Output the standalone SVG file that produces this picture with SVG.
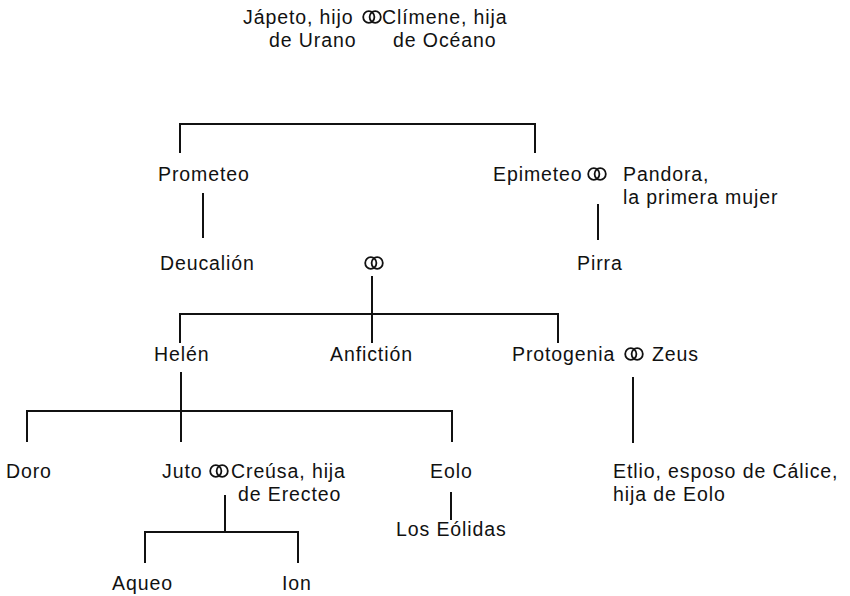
<svg xmlns="http://www.w3.org/2000/svg" xmlns:xlink="http://www.w3.org/1999/xlink" width="850" height="596" viewBox="0 0 850 596">
<style>
text { font-family: "Liberation Sans", Arial, sans-serif; font-size: 19.5px; letter-spacing: 0.9px; fill: #111; }
.ln { stroke: #111; stroke-width: 2; fill: none; stroke-linejoin: miter; stroke-linecap: butt; }
.rg { stroke: #111; stroke-width: 1.8; fill: none; }
</style>
<defs>
<g id="ring">
<ellipse class="rg" cx="-3.2" cy="0" rx="5.6" ry="5.8"/>
<ellipse class="rg" cx="3.2" cy="0" rx="5.6" ry="5.8"/>
</g>
</defs>
<rect width="850" height="596" fill="#fff"/>
<g id="connectors">
<path class="ln" d="M180 153 V124 H535 V153"/>
<path class="ln" d="M203 193 V238"/>
<path class="ln" d="M598 204 V240"/>
<path class="ln" d="M372 276 V314"/>
<path class="ln" d="M180 343 V314 H558 V343"/>
<path class="ln" d="M372 314 V343"/>
<path class="ln" d="M633 377 V443"/>
<path class="ln" d="M181 372 V411"/>
<path class="ln" d="M27 442 V411 H452 V442"/>
<path class="ln" d="M181 411 V442"/>
<path class="ln" d="M451 492 V520"/>
<path class="ln" d="M225 495 V532"/>
<path class="ln" d="M145 563 V532 H298 V563"/>
</g>
<g id="japeto"><text x="243" y="24">Jápeto, hijo</text><text x="269" y="47">de Urano</text></g>
<g id="m-japeto-climene"><use xlink:href="#ring" x="372" y="17"/></g>
<g id="climene"><text x="382" y="24">Clímene, hija</text><text x="393" y="47">de Océano</text></g>
<g id="prometeo"><text x="158" y="181">Prometeo</text></g>
<g id="epimeteo"><text x="493" y="181">Epimeteo</text></g>
<g id="m-epimeteo-pandora"><use xlink:href="#ring" x="597" y="174"/></g>
<g id="pandora"><text x="623" y="181">Pandora,</text><text x="623" y="204">la primera mujer</text></g>
<g id="deucalion"><text x="160" y="270">Deucalión</text></g>
<g id="m-deucalion-pirra"><use xlink:href="#ring" x="374" y="263"/></g>
<g id="pirra"><text x="577" y="270">Pirra</text></g>
<g id="helen"><text x="154" y="361">Helén</text></g>
<g id="anfiction"><text x="330" y="361">Anfictión</text></g>
<g id="protogenia"><text x="512" y="361">Protogenia</text></g>
<g id="m-protogenia-zeus"><use xlink:href="#ring" x="634" y="354"/></g>
<g id="zeus"><text x="652" y="361">Zeus</text></g>
<g id="etlio"><text x="613" y="478">Etlio, esposo de Cálice,</text><text x="613" y="501">hija de Eolo</text></g>
<g id="doro"><text x="6" y="478">Doro</text></g>
<g id="juto"><text x="162" y="478">Juto</text></g>
<g id="m-juto-creusa"><use xlink:href="#ring" x="219" y="471"/></g>
<g id="creusa"><text x="231" y="478">Creúsa, hija</text><text x="238" y="501">de Erecteo</text></g>
<g id="eolo"><text x="430" y="478">Eolo</text></g>
<g id="eolidas"><text x="396" y="536">Los Eólidas</text></g>
<g id="aqueo"><text x="112" y="590">Aqueo</text></g>
<g id="ion"><text x="282" y="590">Ion</text></g>
</svg>
